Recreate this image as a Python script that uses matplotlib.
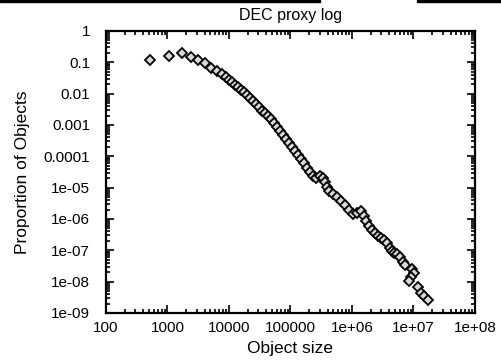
import matplotlib
matplotlib.use("Agg")
import matplotlib.pyplot as plt
import numpy as np
from matplotlib.ticker import LogLocator, FixedFormatter, FixedLocator, NullFormatter

# log10 of object size and log10 of proportion
log_size = [2.715, 3.024, 3.236, 3.382, 3.496, 3.610, 3.707, 3.805, 3.886, 3.951,
            4.000, 4.049, 4.098, 4.146, 4.195, 4.244, 4.293, 4.341, 4.390, 4.439,
            4.488, 4.537, 4.585, 4.634, 4.683, 4.732, 4.780, 4.829, 4.878, 4.927,
            4.976, 5.024, 5.073, 5.122, 5.171, 5.220, 5.268, 5.317, 5.366, 5.415,
            5.480, 5.528, 5.561, 5.593, 5.626, 5.691, 5.756, 5.821, 5.886, 5.951,
            6.016, 6.081, 6.146, 6.195, 6.228, 6.276, 6.325, 6.374, 6.423, 6.472,
            6.520, 6.569, 6.618, 6.650, 6.683, 6.732, 6.780, 6.829, 6.862, 6.976,
            7.008, 6.959, 6.927, 7.073, 7.122, 7.171, 7.236]
log_prop = [-0.924, -0.796, -0.701, -0.828, -0.924, -1.019, -1.178, -1.274, -1.369, -1.465,
            -1.561, -1.624, -1.720, -1.783, -1.879, -1.943, -2.038, -2.134, -2.229, -2.325,
            -2.420, -2.548, -2.611, -2.707, -2.803, -2.930, -3.057, -3.185, -3.312, -3.439,
            -3.567, -3.694, -3.822, -3.949, -4.076, -4.204, -4.363, -4.490, -4.618, -4.682,
            -4.618, -4.682, -4.809, -4.968, -5.096, -5.191, -5.287, -5.414, -5.541, -5.701,
            -5.828, -5.796, -5.732, -5.892, -6.051, -6.210, -6.338, -6.433, -6.529, -6.592,
            -6.656, -6.752, -6.911, -7.006, -7.070, -7.102, -7.197, -7.357, -7.484, -7.611,
            -7.739, -7.866, -7.994, -8.185, -8.376, -8.471, -8.600]

x_ticks = [1e2, 1e3, 1e4, 1e5, 1e6, 1e7, 1e8]
x_labels = ["100", "1000", "10000", "100000", "1e+06", "1e+07", "1e+08"]
y_ticks = [1e-9, 1e-8, 1e-7, 1e-6, 1e-5, 1e-4, 1e-3, 1e-2, 1e-1, 1]
y_labels = ["1e-09", "1e-08", "1e-07", "1e-06", "1e-05", "0.0001", "0.001", "0.01", "0.1", "1"]

plt.rcParams['font.family'] = ['Liberation Sans', 'DejaVu Sans']
plt.rcParams['font.size'] = 11

fig = plt.figure(figsize=(5.02, 3.62), dpi=100)
ax = fig.add_axes([106/502, 1-313/362, 369/502, 282/362])

size = 10 ** np.array(log_size)
prop = 10 ** np.array(log_prop)
ax.plot(size, prop, linestyle='none', marker='D', markersize=5.5,
        markerfacecolor='#d8d8d8', markeredgecolor='black', markeredgewidth=1.3)

ax.set_xscale('log')
ax.set_yscale('log')
ax.set_xlim(1e2, 1e8)
ax.set_ylim(1e-9, 1)

ax.xaxis.set_major_locator(FixedLocator(x_ticks))
ax.xaxis.set_major_formatter(FixedFormatter(x_labels))
ax.yaxis.set_major_locator(FixedLocator(y_ticks))
ax.yaxis.set_major_formatter(FixedFormatter(y_labels))
ax.xaxis.set_minor_locator(LogLocator(base=10, subs=np.arange(2, 10), numticks=20))
ax.yaxis.set_minor_locator(LogLocator(base=10, subs=np.arange(2, 10), numticks=20))
ax.xaxis.set_minor_formatter(NullFormatter())
ax.yaxis.set_minor_formatter(NullFormatter())

ax.tick_params(which='both', direction='in', top=True, right=True, width=1.2, color='black')
ax.tick_params(which='major', length=6)
ax.tick_params(which='minor', length=3)
ax.tick_params(axis='x', which='major', pad=5.5, labelsize=11)
ax.tick_params(axis='y', which='major', pad=11.5, labelsize=11)
for s in ax.spines.values():
    s.set_linewidth(1.6)

ax.set_title("DEC proxy log", fontsize=11.5, pad=8)
ax.set_xlabel("Object size", fontsize=12.5)
ax.set_ylabel("Proportion of Objects", fontsize=12.5)
ax.xaxis.set_label_coords(0.5, -0.1)
ax.yaxis.set_label_coords(-0.205, 0.5)

# scan edge at the top of the page
fig.add_artist(plt.Rectangle((0, 1-2/362), 320/502, 2/362, transform=fig.transFigure, color='black'))
fig.add_artist(plt.Rectangle((417/502, 1-2/362), 85/502, 2/362, transform=fig.transFigure, color='black'))

fig.savefig("out.png", dpi=100)
